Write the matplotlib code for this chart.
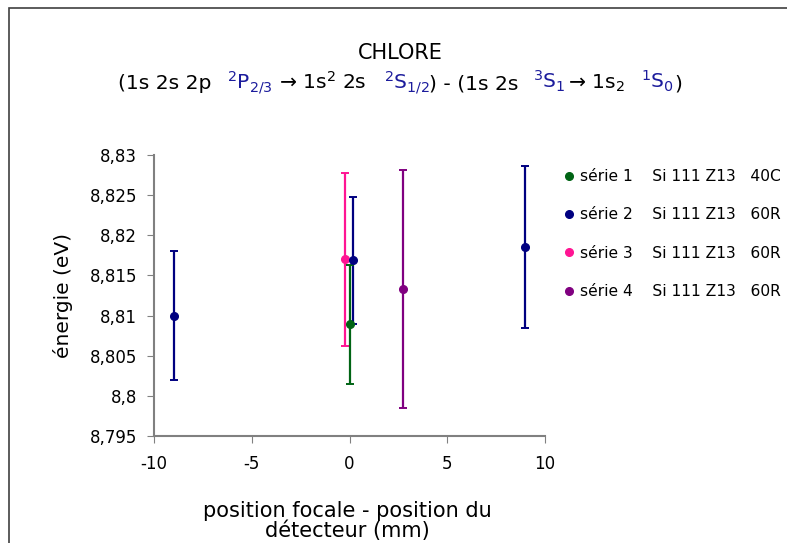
import matplotlib.pyplot as plt
from matplotlib.lines import Line2D
from matplotlib.patches import Rectangle
from matplotlib.ticker import FuncFormatter

# data
s1_x = [0.0]
s1_y = [8.8089]
s1_err = [0.0074]

s2_x = [-9.0, 0.17, 9.0]
s2_y = [8.8100, 8.8169, 8.8185]
s2_err = [0.0080, 0.0079, 0.0101]

s3_x = [-0.24]
s3_y = [8.8170]
s3_err = [0.0108]

s4_x = [2.72]
s4_y = [8.8133]
s4_err = [0.0148]

labels = ['série 1    Si 111 Z13   40C',
          'série 2    Si 111 Z13   60R',
          'série 3    Si 111 Z13   60R',
          'série 4    Si 111 Z13   60R']
colors = ['#006414', '#000080', '#ff1493', '#800080']

plt.rcParams['font.family'] = 'DejaVu Sans'
plt.rcParams['mathtext.fontset'] = 'dejavusans'
plt.rcParams['axes.unicode_minus'] = False

W, H = 787, 543
fig = plt.figure(figsize=(W / 100, H / 100), dpi=100)
ax = fig.add_axes([154 / W, 1 - 436 / H, (545 - 154) / W, (436 - 155) / H])

series = [(s3_x, s3_y, s3_err, colors[2]),
          (s2_x, s2_y, s2_err, colors[1]),
          (s1_x, s1_y, s1_err, colors[0]),
          (s4_x, s4_y, s4_err, colors[3])]
for x, y, e, c in series:
    ax.errorbar(x, y, yerr=e, fmt='o', color=c, ecolor=c, markersize=5.5,
                elinewidth=1.6, capsize=2.8, capthick=1.4)

ax.set_xlim(-10, 10)
ax.set_ylim(8.795, 8.83)
ax.set_xticks([-10, -5, 0, 5, 10])
ax.set_yticks([8.795, 8.8, 8.805, 8.81, 8.815, 8.82, 8.825, 8.83])
ax.yaxis.set_major_formatter(FuncFormatter(lambda v, p: ('%g' % round(v, 4)).replace('.', ',')))
ax.tick_params(axis='both', labelsize=12, colors='#808080', labelcolor='black')
ax.tick_params(axis='y', length=5, pad=7)
ax.tick_params(axis='x', length=5, pad=9)
for side in ['top', 'right']:
    ax.spines[side].set_visible(False)
for side in ['left', 'bottom']:
    ax.spines[side].set_color('#808080')
    ax.spines[side].set_linewidth(1.5)

ax.set_ylabel('énergie (eV)', fontsize=14.5, labelpad=12)
fig.text(347 / W, 1 - 521 / H, 'position focale - position du\ndétecteur (mm)',
         ha='center', va='center', fontsize=15, linespacing=1.02)

# legend
handles = [Line2D([], [], marker='o', linestyle='none', color=c, markersize=5.5) for c in colors]
fig.legend(handles, labels, loc='upper left', bbox_to_anchor=(564 / W, 1 - 169 / H),
           frameon=False, fontsize=11.2, handlelength=0.6, handletextpad=0.45,
           labelspacing=1.5, borderpad=0, borderaxespad=0)

# title
fig.text(400 / W, 1 - 53 / H, 'CHLORE', ha='center', va='center', fontsize=15)
blue = '#1c1c9c'
# (text, colour, gap in pixels before the piece)
pieces = [('(1s 2s 2p', 'black', 0),
          (r'$\mathregular{^2P_{2/3}}$', blue, 16),
          (r'→ 1s$\mathregular{^2}$ 2s', 'black', 6),
          (r'$\mathregular{^2S_{1/2}}$', blue, 17),
          (') - (1s 2s', 'black', 0),
          (r'$\mathregular{^3S_1}$', blue, 14),
          (r'→ 1s$\mathregular{_2}$', 'black', 3),
          (r'$\mathregular{^1S_0}$', blue, 16),
          (')', 'black', 0)]
texts = [fig.text(0, 1 - 89 / H, s, color=c, fontsize=14.6, va='baseline') for s, c, g in pieces]
fig.canvas.draw()
r = fig.canvas.get_renderer()
widths = [t.get_window_extent(r).width for t in texts]
total = sum(widths) + sum(g for s, c, g in pieces)
x = 400 - total / 2
for t, w, p in zip(texts, widths, pieces):
    x += p[2]
    t.set_x(x / W)
    x += w

# outer border of the chart area
fig.patches.append(Rectangle((9 / W, -0.1), 2, 1.1 - 8 / H, transform=fig.transFigure,
                             fill=False, edgecolor='#404040', linewidth=1.2))

fig.savefig('out.png', dpi=100)
